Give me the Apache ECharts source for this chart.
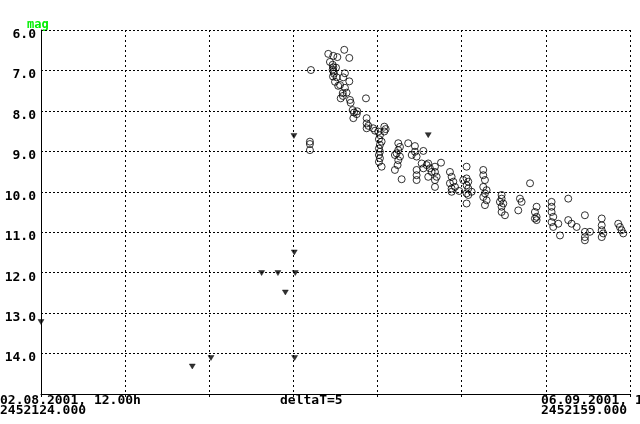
<!DOCTYPE html>
<html>
<head>
<meta charset="utf-8">
<script src="https://cdn.jsdelivr.net/npm/echarts@6/dist/echarts.min.js"></script>
<style>
html,body{margin:0;padding:0;background:#fff;}
#chart{width:640px;height:424px;}
</style>
</head>
<body>
<div id="chart"></div>
<script>
// x values are days since JD 2452124.000 (02.08.2001, 12.00h)
const JD0 = 2452124.0;
const circleDays = [15.98,15.98,15.98,16.04,
18.02,17.07,17.37,17.61,18.32,17.17,17.33,17.37,17.53,17.33,17.38,17.41,18.06,17.35,17.57,17.96,17.47,18.32,17.77,17.66,18.06,18.16,17.93,17.94,17.81,19.31,18.36,18.40,18.52,18.79,18.60,18.76,18.56,19.35,19.35,19.45,19.35,19.74,19.85,20.04,20.40,20.48,20.40,20.14,20.08,20.24,20.14,20.08,20.14,20.08,20.14,20.08,20.24,
21.23,21.33,21.23,21.13,21.03,21.33,21.23,21.19,21.03,21.43,
21.82,22.22,22.22,22.72,22.03,22.32,22.32,22.32,22.32,22.62,22.92,23.01,22.72,23.11,23.21,23.01,23.41,23.41,23.51,23.41,23.41,23.77,
24.30,24.40,24.50,24.30,24.40,24.60,24.40,24.85,25.09,
25.29,25.29,25.39,25.29,25.39,25.59,25.29,25.39,25.29,
26.28,26.28,26.38,26.28,26.48,26.38,26.28,26.48,26.38,
27.37,27.37,27.27,27.47,27.37,27.37,27.57,
28.46,28.56,28.36,29.06,
29.45,29.35,29.45,29.45,29.35,
30.34,30.34,30.34,30.44,30.34,30.44,30.74,30.84,
31.33,31.33,31.53,31.83,32.32,32.32,32.62,32.32,32.32,
33.32,33.32,33.32,33.41,33.32,
34.30,34.40,34.50,34.60];
const circleMags = [8.76,8.82,8.97,6.99,
6.49,6.59,6.64,6.67,6.69,6.79,6.86,6.92,6.93,6.98,7.03,7.08,7.07,7.15,7.17,7.17,7.28,7.27,7.36,7.38,7.43,7.55,7.56,7.63,7.69,7.69,7.73,7.80,7.98,8.01,8.04,8.08,8.18,8.18,8.31,8.37,8.43,8.43,8.49,8.51,8.39,8.45,8.51,8.60,8.70,8.76,8.84,8.93,9.01,9.09,9.17,9.26,9.38,
8.80,8.89,8.97,9.05,9.09,9.13,9.22,9.34,9.46,9.69,
8.80,8.87,9.01,8.99,9.09,9.13,9.46,9.59,9.71,9.30,9.34,9.30,9.42,9.42,9.51,9.63,9.38,9.51,9.63,9.71,9.88,9.28,
9.51,9.63,9.75,9.79,9.92,9.88,10.00,9.98,9.71,
9.38,9.67,9.75,9.84,9.92,10.00,10.04,10.08,10.29,
9.46,9.59,9.71,9.88,9.96,10.04,10.13,10.21,10.33,
10.08,10.17,10.25,10.29,10.37,10.50,10.58,
10.17,10.25,10.46,9.79,
10.37,10.50,10.62,10.70,10.66,
10.25,10.37,10.50,10.62,10.75,10.87,10.79,11.08,
10.17,10.70,10.79,10.87,10.58,10.99,10.99,11.12,11.20,
10.66,10.83,10.95,11.03,11.12,
10.79,10.87,10.95,11.03];
// fainter-than limits (down triangles)
const limitDays = [0.00,8.99,10.10,13.11,14.08,14.52,15.05,15.11,15.07,15.03,23.01];
const limitMags = [13.22,14.32,14.11,12.01,12.01,12.49,11.50,12.01,14.11,8.62,8.60];
const yTicks = [6,7,8,9,10,11,12,13,14];
const xLabels = [
  {text:'02.08.2001, 12.00h\n2452124.000', x:0},
  {text:'deltaT=5', x:280},
  {text:'06.09.2001, 12.00h\n2452159.000', x:541}
];
const axisTitle = 'mag';

const circleData = circleDays.map((d,i)=>[d,circleMags[i]]);
const limitData = limitDays.map((d,i)=>[d,limitMags[i]]);
const FONT = '"DejaVu Sans Mono", monospace';

const chart = echarts.init(document.getElementById('chart'), null, {renderer:'canvas'});
chart.setOption({
  backgroundColor:'#fff',
  animation:false,
  grid:{left:41,right:10,top:30,bottom:30,containLabel:false},
  xAxis:{
    type:'value',min:0,max:35,interval:5,
    axisLine:{lineStyle:{color:'#000',width:1}},
    axisTick:{show:true,length:3,lineStyle:{color:'#000'}},
    axisLabel:{show:false},
    splitLine:{show:true,lineStyle:{color:'#000',width:1,type:[2,3]}}
  },
  yAxis:{
    type:'value',inverse:true,min:6,max:15,interval:1,
    axisLine:{show:true,lineStyle:{color:'#000',width:1}},
    axisTick:{show:false},
    axisLabel:{
      color:'#000',fontFamily:FONT,fontWeight:'bold',fontSize:13,margin:5,
      verticalAlign:'top',lineHeight:9,
      formatter:v=> yTicks.indexOf(v)>=0 ? v.toFixed(1) : ''
    },
    splitLine:{show:true,lineStyle:{color:'#000',width:1,type:[2,2]}}
  },
  graphic:[
    {type:'text',left:27,top:19,style:{text:axisTitle,fill:'#00ee00',font:'bold 12px '+FONT}}
  ].concat(xLabels.map(l=>({type:'text',x:l.x,y:396,style:{text:l.text,fill:'#000',font:'bold 13px '+FONT,lineHeight:10,verticalAlign:'top'}}))),
  series:[
    {
      type:'scatter',data:circleData,symbol:'circle',symbolSize:7,clip:false,
      itemStyle:{color:'rgba(0,0,0,0)',borderColor:'#000',borderWidth:1}
    },
    {
      type:'scatter',data:limitData,symbol:'path://M0,0 L10,0 L5,8 Z',symbolSize:[6,5],clip:false,
      itemStyle:{color:'#000',borderColor:'#000',borderWidth:0.5}
    }
  ]
});
</script>
</body>
</html>
